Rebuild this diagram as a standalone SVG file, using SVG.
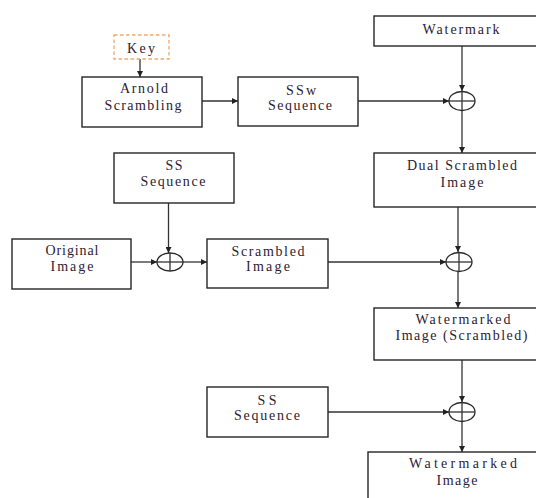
<svg xmlns="http://www.w3.org/2000/svg" width="536" height="498" viewBox="0 0 536 498">
<style>
.box{fill:#fff;stroke:#262626;stroke-width:1.4}
.key{fill:#fff;stroke:#f0a868;stroke-width:1.3;stroke-dasharray:3.5 2.5}
.t{font-size:14px;fill:#2d2233;text-anchor:middle}
.c{stroke:#333;stroke-width:1.3;fill:none}
.x{fill:#fff;stroke:#2a2a2a;stroke-width:1.3}
</style>
<defs>
<marker id="ah" viewBox="0 0 10 10" refX="10" refY="5" markerWidth="6" markerHeight="6" markerUnits="userSpaceOnUse" orient="auto">
<path d="M0,0 L10,5 L0,10 z" fill="#222"/>
</marker>
</defs>
<rect width="536" height="498" fill="#fff"/>
<g id="connectors">
<line class="c" x1="140" y1="59" x2="140" y2="77" marker-end="url(#ah)"/>
<line class="c" x1="202" y1="101" x2="238" y2="101" marker-end="url(#ah)"/>
<line class="c" x1="358" y1="101" x2="449" y2="101" marker-end="url(#ah)"/>
<line class="c" x1="462" y1="46" x2="462" y2="91" marker-end="url(#ah)"/>
<line class="c" x1="462" y1="110" x2="462" y2="153" marker-end="url(#ah)"/>
<line class="c" x1="168.5" y1="203" x2="168.5" y2="253" marker-end="url(#ah)"/>
<line class="c" x1="131" y1="262" x2="157" y2="262" marker-end="url(#ah)"/>
<line class="c" x1="183" y1="262" x2="207" y2="262" marker-end="url(#ah)"/>
<line class="c" x1="328" y1="262" x2="446" y2="262" marker-end="url(#ah)"/>
<line class="c" x1="458" y1="207" x2="458" y2="252" marker-end="url(#ah)"/>
<line class="c" x1="458" y1="271" x2="458" y2="308" marker-end="url(#ah)"/>
<line class="c" x1="462" y1="360" x2="462" y2="402" marker-end="url(#ah)"/>
<line class="c" x1="328" y1="412" x2="449" y2="412" marker-end="url(#ah)"/>
<line class="c" x1="462" y1="422" x2="462" y2="452" marker-end="url(#ah)"/>
</g>
<g id="xor0"><ellipse class="x" cx="170" cy="262" rx="13" ry="9"/><line class="c" x1="157" y1="262" x2="183" y2="262"/><line class="c" x1="170" y1="253" x2="170" y2="271"/></g>
<g id="xor1"><ellipse class="x" cx="462" cy="101" rx="13" ry="9.5"/><line class="c" x1="449" y1="101" x2="475" y2="101"/><line class="c" x1="462" y1="91.5" x2="462" y2="110.5"/></g>
<g id="xor2"><ellipse class="x" cx="459" cy="262" rx="13" ry="9.5"/><line class="c" x1="446" y1="262" x2="472" y2="262"/><line class="c" x1="459" y1="252.5" x2="459" y2="271.5"/></g>
<g id="xor3"><ellipse class="x" cx="462" cy="412" rx="13" ry="9.5"/><line class="c" x1="449" y1="412" x2="475" y2="412"/><line class="c" x1="462" y1="402.5" x2="462" y2="421.5"/></g>
<g font-family="Liberation Serif, DejaVu Serif, Times New Roman, serif">
<g id="key"><rect class="key" x="114" y="35" width="55" height="24"/><text class="t" x="141" y="53" textLength="28">Key</text></g>
<g id="arnold"><rect class="box" x="82" y="77" width="120" height="50"/><text class="t" x="144" y="93" textLength="48">Arnold</text><text class="t" x="143" y="110" textLength="77">Scrambling</text></g>
<g id="ssw"><rect class="box" x="238" y="77" width="120" height="49"/><text class="t" x="301" y="94.5" textLength="30">SSw</text><text class="t" x="300" y="110" textLength="64">Sequence</text></g>
<g id="watermark"><rect class="box" x="374" y="16" width="165" height="30"/><text class="t" x="461" y="34" textLength="77">Watermark</text></g>
<g id="dual"><rect class="box" x="374" y="153" width="165" height="54"/><text class="t" x="462" y="170" textLength="110">Dual Scrambled</text><text class="t" x="462" y="186.5" textLength="43">Image</text></g>
<g id="ss1"><rect class="box" x="114" y="153" width="120" height="50"/><text class="t" x="174" y="170" textLength="17">SS</text><text class="t" x="173" y="186" textLength="65">Sequence</text></g>
<g id="original"><rect class="box" x="12" y="239" width="119" height="50"/><text class="t" x="72" y="254.5" textLength="53">Original</text><text class="t" x="72" y="271" textLength="43">Image</text></g>
<g id="scrambled"><rect class="box" x="207" y="239" width="121" height="49"/><text class="t" x="268" y="255.5" textLength="73">Scrambled</text><text class="t" x="268" y="271" textLength="44">Image</text></g>
<g id="wms"><rect class="box" x="374" y="308" width="165" height="52"/><text class="t" x="463" y="323.5" textLength="95">Watermarked</text><text class="t" x="461.5" y="339.5" textLength="132">Image (Scrambled)</text></g>
<g id="ss3"><rect class="box" x="207" y="387" width="121" height="50"/><text class="t" x="267" y="404.5" textLength="19">SS</text><text class="t" x="267" y="419.5" textLength="66">Sequence</text></g>
<g id="final"><rect class="box" x="368" y="452" width="171" height="50"/><text class="t" x="463" y="467.5" textLength="108">Watermarked</text><text class="t" x="457" y="484.5" textLength="41">Image</text></g>
</g>
</svg>
